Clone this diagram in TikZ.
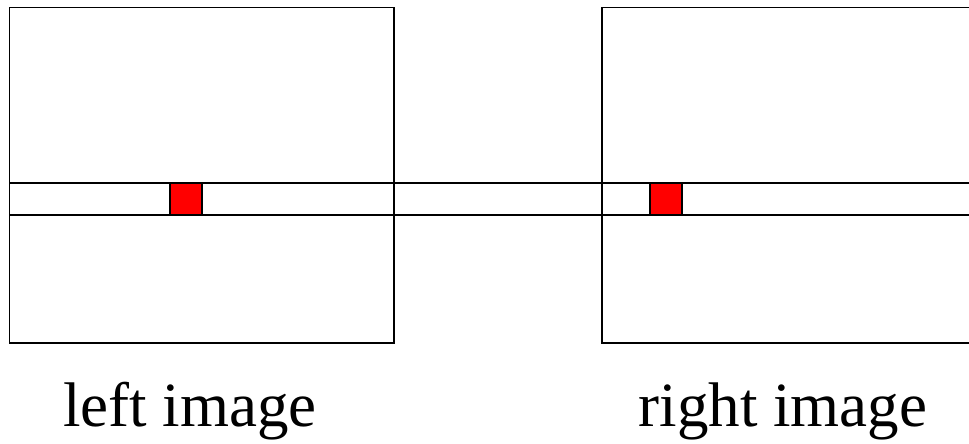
\documentclass[tikz,border=0pt]{standalone}
\usepackage{fontspec}
\setmainfont{Liberation Serif}
\begin{document}
\begin{tikzpicture}[x=1pt,y=-1pt,
  frame/.style={draw=black,line width=1.8pt},
  patch/.style={draw=black,fill=red,line width=1.8pt,minimum size=32pt,inner sep=0pt,outer sep=0pt},
  lbl/.style={anchor=base,inner sep=0pt,font=\fontsize{63}{70}\selectfont}]
\useasboundingbox (0,0) rectangle (969,444);
\begin{scope}
\clip (0,0) rectangle (969,444);
% left image frame
\draw[frame] (9.5,7.5) rectangle (394,343);
% right image frame (open at the right edge)
\draw[frame] (975,7.5) -- (602,7.5) -- (602,343) -- (975,343);
% scanline band
\coordinate (bl1) at (9.5,183);
\coordinate (br1) at (975,183);
\coordinate (bl2) at (9.5,215);
\coordinate (br2) at (975,215);
\draw[frame] (bl1) -- (br1);
\draw[frame] (bl2) -- (br2);
% red patches
\node[patch] (pl) at (186,199) {};
\node[patch] (pr) at (666,199) {};
% labels
\node[lbl] (ltxt) at (190,426) {left image};
\node[lbl] (rtxt) at (783,426) {right image};
\end{scope}
\end{tikzpicture}
\end{document}
